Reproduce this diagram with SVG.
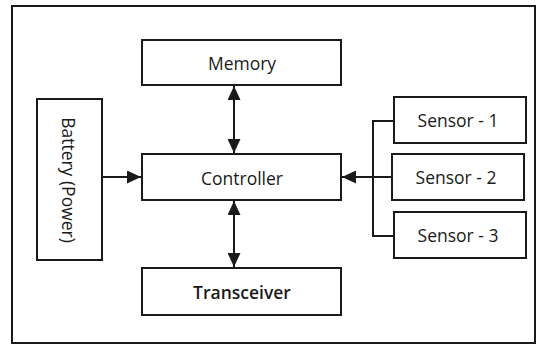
<svg xmlns="http://www.w3.org/2000/svg" width="541" height="345" viewBox="0 0 541 345">
<defs>
<style>
.box{fill:#fff;stroke:#1a1a1a;stroke-width:2}
.lbl{font-family:"Open Sans","Liberation Sans",sans-serif;font-size:17.5px;font-weight:500;fill:#1a1a1a;text-anchor:middle;dominant-baseline:central}
.bold{font-weight:600}
.ln{stroke:#1a1a1a;stroke-width:2;fill:none}
</style>
<marker id="ah" viewBox="0 0 14 13" refX="14" refY="6.5" markerWidth="14" markerHeight="13" markerUnits="userSpaceOnUse" orient="auto-start-reverse">
<path d="M0,0 L14,6.5 L0,13 Z" fill="#1a1a1a"/>
</marker>
</defs>
<rect x="0" y="0" width="541" height="345" fill="#fff"/>
<rect x="12" y="6" width="523" height="337" fill="none" stroke="#1a1a1a" stroke-width="2"/>
<g id="memory"><rect class="box" x="142" y="40" width="199" height="45"/><text class="lbl" x="242" y="63">Memory</text></g>
<g id="controller"><rect class="box" x="142" y="154" width="199" height="46"/><text class="lbl" x="242" y="178">Controller</text></g>
<g id="transceiver"><rect class="box" x="142" y="268" width="199" height="47"/><text class="lbl bold" x="242" y="292">Transceiver</text></g>
<g id="battery"><rect class="box" x="37" y="99" width="65" height="161"/><text class="lbl" x="0" y="0" transform="translate(69,180) rotate(90)">Battery (Power)</text></g>
<g id="sensor1"><rect class="box" x="394" y="97" width="132" height="46"/><text class="lbl" x="458" y="120">Sensor - 1</text></g>
<g id="sensor2"><rect class="box" x="392" y="154" width="132" height="46"/><text class="lbl" x="456" y="177">Sensor - 2</text></g>
<g id="sensor3"><rect class="box" x="394" y="212" width="132" height="46"/><text class="lbl" x="458" y="235">Sensor - 3</text></g>
<g id="connectors">
<line class="ln" x1="234" y1="86" x2="234" y2="153" marker-start="url(#ah)" marker-end="url(#ah)"/>
<line class="ln" x1="234" y1="201" x2="234" y2="267" marker-start="url(#ah)" marker-end="url(#ah)"/>
<line class="ln" x1="102" y1="177" x2="141" y2="177" marker-end="url(#ah)"/>
<line class="ln" x1="392" y1="177" x2="342" y2="177" marker-end="url(#ah)"/>
<polyline class="ln" points="394,121 373,121 373,236 394,236"/>
</g>
</svg>
